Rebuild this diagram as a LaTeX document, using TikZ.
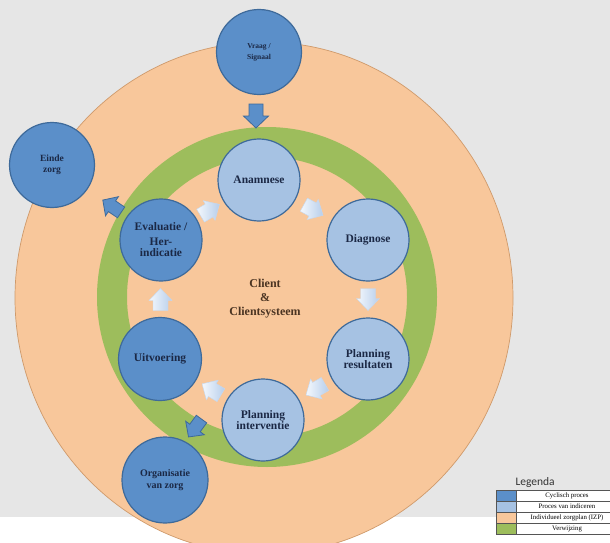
\documentclass[tikz,border=0pt]{standalone}
\usepackage{fontspec}
\setmainfont{Liberation Serif}
\newfontfamily\legfont{Carlito}
\usetikzlibrary{calc}
\definecolor{bgc}{HTML}{E6E6E6}
\definecolor{peach}{HTML}{F8C79B}
\definecolor{peachedge}{HTML}{CF9A6B}
\definecolor{ringgreen}{HTML}{9DBD5C}
\definecolor{cyc}{HTML}{5B8FC9}
\definecolor{ind}{HTML}{A6C2E3}
\definecolor{edgeblue}{HTML}{3E6A9A}
\definecolor{txt}{HTML}{1B2845}
\definecolor{ctxt}{HTML}{4B3422}
\definecolor{palea}{HTML}{F4F8FD}
\definecolor{paleb}{HTML}{B7CEEB}
\definecolor{legline}{HTML}{555555}
\tikzset{
  proc/.style={circle, draw=edgeblue, line width=1.2pt, inner sep=0pt, align=center, text=txt,
    font=\bfseries\fontsize{11.5}{11.5}\selectfont, minimum size=82pt},
  cycl/.style={proc, fill=cyc},
  indi/.style={proc, fill=ind},
  bluearrow/.pic={\path[fill=cyc, draw=edgeblue, line width=0.8pt]
    (-12,-7) -- (0,-7) -- (0,-12.5) -- (12,0) -- (0,12.5) -- (0,7) -- (-12,7) -- cycle;},
  palearrow/.pic={\path[left color=palea, right color=paleb, draw=paleb!80!white, line width=0.4pt]
    (-11,-7.5) -- (-1,-7.5) -- (-1,-11.5) -- (11,0) -- (-1,11.5) -- (-1,7.5) -- (-11,7.5) -- cycle;},
  legc/.style={rectangle, draw=legline, line width=0.5pt, minimum width=20pt, minimum height=11pt, inner sep=0pt},
  legt/.style={rectangle, draw=legline, line width=0.5pt, fill=white, minimum width=102pt, minimum height=11pt,
    inner sep=0pt, text=black, font=\fontsize{6.8}{7}\selectfont}
}
\begin{document}
\begin{tikzpicture}[x=1pt,y=-1pt]
\clip (0,0) rectangle (610,543);
\useasboundingbox (0,0) rectangle (610,543);
% background
\fill[bgc] (0,0) rectangle (610,543);
\fill[white] (0,517) rectangle (610,543);
% outer individual care plan
\filldraw[fill=peach, draw=peachedge, line width=0.7pt] (264,298) ellipse [x radius=249, y radius=256];
% referral ring
\fill[ringgreen, even odd rule] (267,297) circle [radius=170] (267,297) circle [radius=140];
% client
\node[align=center, text=ctxt, font=\bfseries\fontsize{12}{14}\selectfont] (client) at (265,299) {Client\\\&\\Clientsysteem};
% circles
\node[cycl, minimum size=85pt, font=\bfseries\fontsize{7.5}{11}\selectfont] (vraag) at (259,52) {Vraag /\\Signaal};
\node[cycl, minimum size=85pt, font=\bfseries\fontsize{9.5}{11}\selectfont] (einde) at (52,165) {Einde\\zorg};
\node[indi] (ana) at (259,180) {Anamnese};
\node[indi] (dia) at (368,240) {Diagnose};
\node[indi] (res) at (368,359) {Planning\\resultaten};
\node[indi] (int) at (263,420) {Planning\\interventie};
\node[cycl, minimum size=83pt] (uit) at (160,359) {Uitvoering};
\node[cycl] (eva) at (161,240) {Evaluatie /\\[3pt]Her-\\indicatie};
\node[cycl, minimum size=86pt, font=\bfseries\fontsize{10}{11.5}\selectfont] (org) at (165,480) {Organisatie\\van zorg};
% cycle arrows
\pic[rotate=-29] at ($(ana)!0.5!(dia)$) {palearrow};
\pic[rotate=-90] at ($(dia)!0.5!(res)$) {palearrow};
\pic[rotate=210] at ($(res)!0.5!(int)$) {palearrow};
\pic[rotate=149] at ($(int)!0.5!(uit)$) {palearrow};
\pic[rotate=90] at ($(uit)!0.5!(eva)$) {palearrow};
\pic[rotate=31] at ($(eva)!0.5!(ana)$) {palearrow};
% blue arrows
\pic[rotate=-90] at ($(vraag)!0.5!(ana)+(-3,0)$) {bluearrow};
\pic[rotate=146, scale=0.92] at ($(eva)!0.45!(einde)$) {bluearrow};
\coordinate (orgin) at (195,428);
\pic[rotate=234, scale=0.92] at (orgin) {bluearrow};
% legend
\node[anchor=base west, text=black!80, font=\legfont\fontsize{11.5}{12}\selectfont] (legtitle) at (512,485) {Legenda};
\node[legc, fill=cyc] (c1) at (506,495.5) {};
\node[legt] (t1) at (567,495.5) {Cyclisch proces};
\node[legc, fill=ind] (c2) at (506,506.5) {};
\node[legt] (t2) at (567,506.5) {Proces van indiceren};
\node[legc, fill=peach] (c3) at (506,517.5) {};
\node[legt] (t3) at (567,517.5) {Individueel zorgplan (IZP)};
\node[legc, fill=ringgreen] (c4) at (506,528.5) {};
\node[legt] (t4) at (567,528.5) {Verwijzing};
\end{tikzpicture}
\end{document}
